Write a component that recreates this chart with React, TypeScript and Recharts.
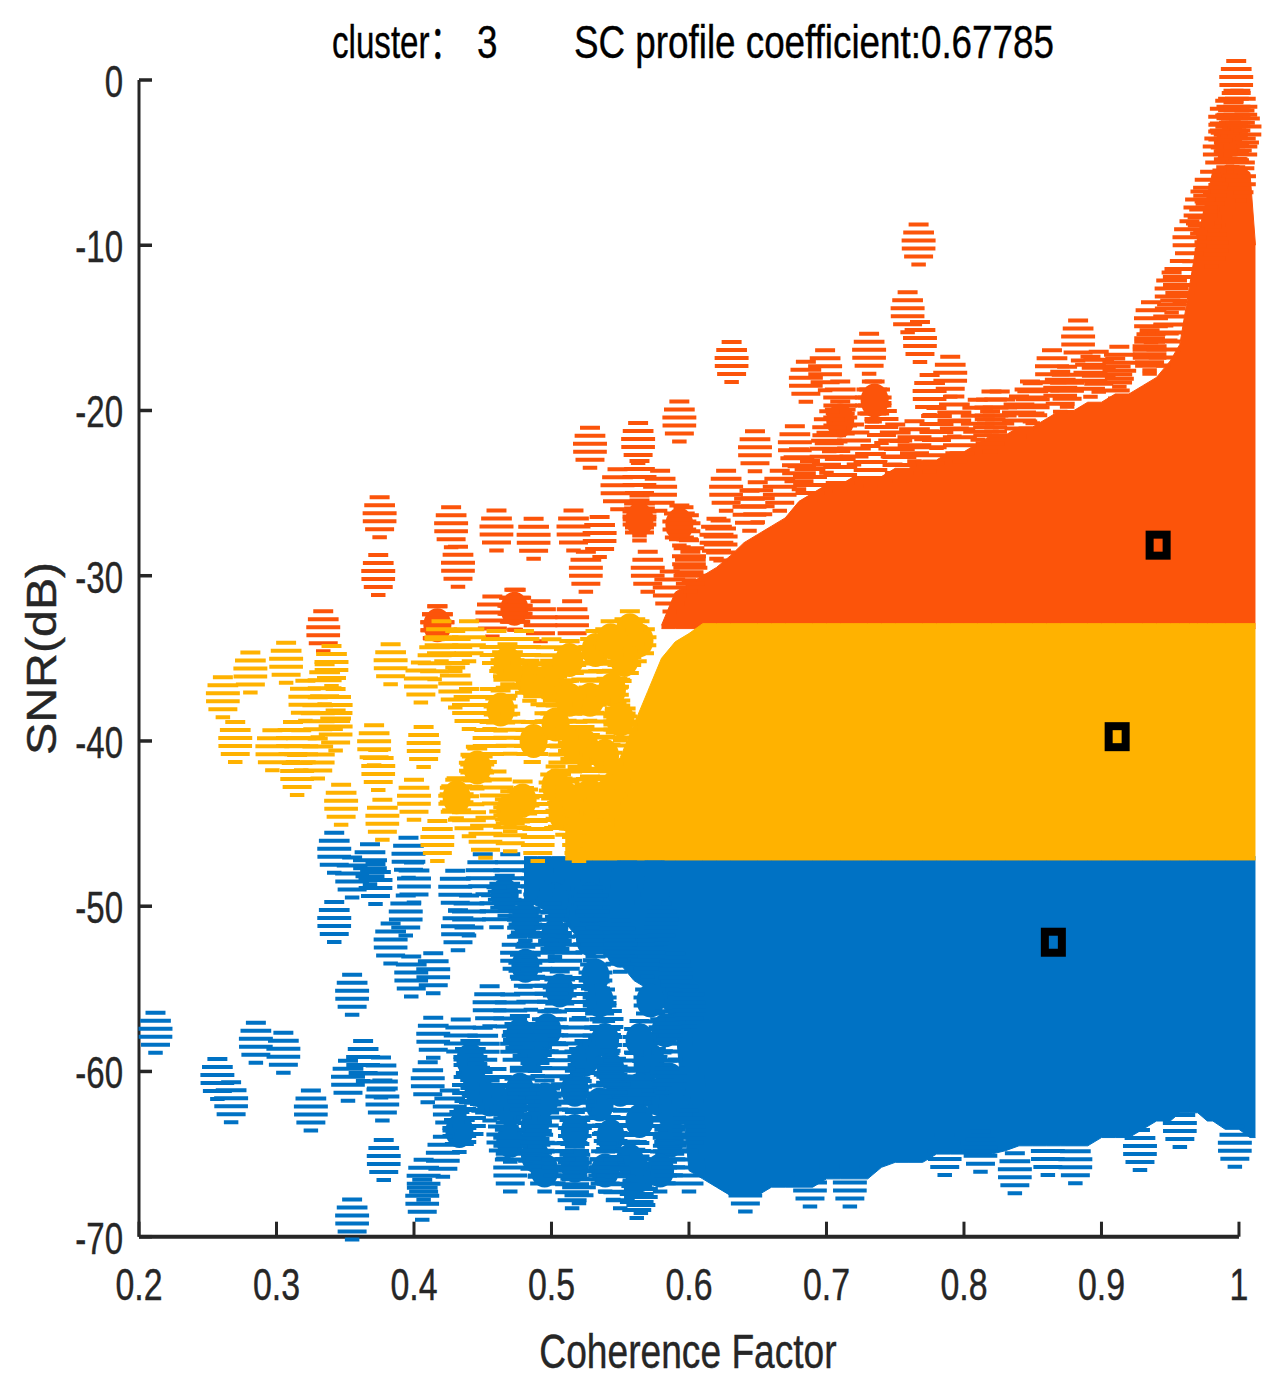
import React from 'react';
import { ComposedChart, Area, Scatter, XAxis, YAxis, ReferenceLine } from 'recharts';

const ORANGE = '#fc540a';
const YELLOW = '#ffb200';
const BLUE = '#0072c4';
const AXIS_COLOR = '#262626';
const FONT = '"Liberation Sans", "Noto Sans CJK SC", Arial, sans-serif';

const xTicks = [0.2, 0.3, 0.4, 0.5, 0.6, 0.7, 0.8, 0.9, 1];
const yTicks = [0, -10, -20, -30, -40, -50, -60, -70];

const bandX = [
  0.48, 0.49, 0.5, 0.51, 0.52, 0.53, 0.54, 0.55, 0.56, 0.57,
  0.58, 0.59, 0.6, 0.61, 0.62, 0.63, 0.64, 0.65, 0.66, 0.67,
  0.68, 0.69, 0.7, 0.71, 0.72, 0.73, 0.74, 0.75, 0.76, 0.77,
  0.78, 0.79, 0.8, 0.81, 0.82, 0.83, 0.84, 0.85, 0.86, 0.87,
  0.88, 0.89, 0.9, 0.91, 0.92, 0.93, 0.94, 0.95, 0.957, 0.964,
  0.97, 0.977, 0.981, 0.99, 1.0, 1.008, 1.012,
];
const orangeTop = [
  null, null, null, null, null, null, null, null, null, null,
  -33, -31, -30.5, -30, -29.5, -28.8, -28, -27.5, -27, -26.5,
  -25.5, -25, -24.5, -24.5, -24, -24, -24, -23.5, -23.5, -23,
  -23, -22.5, -22.5, -22, -21.5, -21.5, -21, -21, -20.5, -20,
  -20, -19.5, -19.5, -19, -19, -18.5, -18, -17, -16, -12.5,
  -9.5, -7, -5.5, -5.2, -5.2, -5.6, -10,
];
const yellowTop = [
  null, null, null, -44.5, -44, -43, -42, -41, -39, -37,
  -35, -34, -33.5, -32.9, -32.9, -32.9, -32.9, -32.9, -32.9, -32.9,
  -32.9, -32.9, -32.9, -32.9, -32.9, -32.9, -32.9, -32.9, -32.9, -32.9,
  -32.9, -32.9, -32.9, -32.9, -32.9, -32.9, -32.9, -32.9, -32.9, -32.9,
  -32.9, -32.9, -32.9, -32.9, -32.9, -32.9, -32.9, -32.9, -32.9, -32.9,
  -32.9, -32.9, -32.9, -32.9, -32.9, -32.9, -32.9,
];
const blueBottom = [
  -49.6, -50, -50.5, -51, -52, -52.5, -53, -53.5, -54.5, -55,
  -56, -57, -66, -66.5, -67, -67.5, -67.5, -67.5, -67, -67,
  -67, -67, -66.5, -66.5, -66.5, -66.5, -65.8, -65.5, -65.5, -65.5,
  -65, -65, -65, -65, -65, -64.8, -64.5, -64.5, -64.5, -64.5,
  -64.5, -64.5, -64, -64, -64, -63.5, -63, -63, -62.5, -62.5,
  -62.5, -63, -63, -63.5, -63.5, -64, -64,
];

const orangeBottom = -33.2;
const yellowBottom = -47.2;
const blueTop = -47;

// Scattered markers, [coherence, snr]
const orangePoints = [
  [0.998, 0], [0.996, -1.8], [0.996, -2.5], [0.994, -3.5], [0.99, -3.3], [0.995, -4], [0.994, -4.5], [1.0, -6],
  [0.985, -7.5], [0.975, -8.5], [0.98, -10], [0.767, -9.9], [0.759, -14], [0.768, -15.8], [0.731, -16.5], [0.631, -17],
  [0.593, -20.6], [0.528, -22.2], [0.563, -21.9], [0.648, -22.4], [0.627, -24.8], [0.548, -24.7], [0.375, -26.4],
  [0.427, -27], [0.46, -27.2], [0.487, -27.7], [0.516, -27.2], [0.535, -27.6], [0.564, -26.3], [0.374, -29.9],
  [0.432, -29.4], [0.57, -29.7], [0.596, -27], [0.525, -29.7], [0.334, -33.3], [0.417, -33], [0.457, -32.4],
  [0.474, -32], [0.492, -32.7], [0.515, -32.7], [0.564, -24.2], [0.579, -24.8], [0.685, -18.2], [0.699, -17.5],
  [0.71, -19.4], [0.733, -19.4], [0.79, -17.9], [0.775, -19], [0.793, -20.3], [0.677, -22.1], [0.702, -21.2],
  [0.764, -21.8], [0.864, -17.5], [0.883, -15.7], [0.898, -17.6], [0.936, -14.6], [0.951, -12.8], [0.84, -20.3],
  [0.6, -29], [0.62, -27.7], [0.65, -25.5], [0.68, -23.5], [0.7, -22.5], [0.72, -22], [0.74, -20.7], [0.75, -22],
  [0.78, -21], [0.81, -20.5], [0.82, -20], [0.85, -19.5], [0.875, -18.5], [0.91, -18], [0.935, -16.5], [0.945, -16],
  [0.826, -20], [0.848, -19.4], [0.87, -18.8], [0.892, -17.9], [0.913, -17.3], [0.935, -16.3], [0.819, -21.2],
  [0.797, -21.8], [0.775, -22.4], [0.753, -23], [0.732, -23.3], [0.71, -23.6], [0.688, -24.2], [0.666, -24.8],
  [0.644, -26], [0.623, -27.8], [0.601, -29.7], [0.586, -30.9], [0.95, -14.5], [0.957, -12.1], [0.964, -9.7],
  [0.972, -7.9], [0.979, -6.7], [0.986, -4.2], [1.001, -4.2], [1.004, -3], [0.99, -2.4], [1.001, -1.8],
];
const orangeBlobs = [
  [0.473, -32], [0.417, -33], [0.564, -26.6], [0.593, -26.9], [0.71, -20.6], [0.735, -19.4],
];
const yellowPoints = [
  [0.261, -37.3], [0.281, -35.8], [0.307, -35.2], [0.34, -35.4], [0.335, -36.5], [0.321, -37.5], [0.343, -38],
  [0.343, -39.3], [0.33, -38.5], [0.27, -40], [0.297, -40.5], [0.315, -42], [0.318, -40.5], [0.33, -41], [0.312, -40],
  [0.347, -43.8], [0.371, -40.2], [0.374, -41.7], [0.407, -40.3], [0.377, -44.7], [0.4, -43.5], [0.383, -35.3],
  [0.405, -36.4], [0.415, -35], [0.43, -34.5], [0.43, -36.7], [0.44, -38], [0.455, -38], [0.455, -40], [0.445, -41.5],
  [0.43, -43.5], [0.44, -44.5], [0.417, -46], [0.452, -45.8], [0.46, -43], [0.47, -36], [0.48, -34.5], [0.49, -36.5],
  [0.5, -35], [0.5, -38.5], [0.485, -40], [0.47, -39.5], [0.505, -37], [0.51, -41], [0.515, -39.5], [0.525, -35.5],
  [0.53, -39], [0.53, -42], [0.545, -36], [0.55, -39], [0.48, -44], [0.49, -46], [0.5, -44], [0.515, -43], [0.535, -45.5],
  [0.545, -42.5], [0.42, -33.9], [0.46, -34.5], [0.44, -33.9], [0.52, -46], [0.47, -45.4],
];
const yellowBlobs = [
  [0.484, -36.3], [0.499, -36.3], [0.468, -35.3], [0.487, -40], [0.446, -41.6], [0.431, -43.4], [0.479, -43.6],
  [0.508, -44.4], [0.528, -37.5], [0.544, -36.9], [0.553, -35.1], [0.524, -40.3], [0.539, -40.9], [0.55, -38.7],
  [0.528, -43.3], [0.543, -43.9], [0.521, -45.4], [0.535, -45.7], [0.564, -33.9], [0.557, -33.3],
  [0.513, -43.6], [0.513, -37.5], [0.513, -35.1], [0.532, -34.5], [0.543, -33.9], [0.503, -39], [0.517, -40.3],
  [0.503, -42.7], [0.463, -38.1], [0.47, -44.2],
];
const bluePoints = [
  [0.342, -46.7], [0.368, -47.4], [0.355, -48.2], [0.372, -48.6], [0.396, -47], [0.4, -48.5], [0.342, -50.9], [0.394, -50.5],
  [0.383, -52.2], [0.432, -51.4], [0.414, -54], [0.398, -54.2], [0.355, -55.3], [0.212, -57.6], [0.285, -58.2], [0.305, -58.8],
  [0.257, -60.4], [0.267, -61.8], [0.325, -62.3], [0.363, -59.3], [0.352, -60.5], [0.376, -60.3], [0.377, -61.7],
  [0.378, -65.3], [0.421, -65.1], [0.407, -66.5], [0.406, -67.7], [0.355, -68.9], [0.414, -57.9], [0.434, -58],
  [0.41, -60.6], [0.426, -62.3], [0.446, -60.7], [0.43, -49], [0.45, -48], [0.47, -48], [0.49, -48.5], [0.44, -50.5],
  [0.46, -50], [0.48, -51], [0.5, -51], [0.475, -53], [0.49, -53], [0.51, -53], [0.52, -55.5], [0.5, -55], [0.485, -55],
  [0.455, -56], [0.47, -56.5], [0.5, -57.5], [0.45, -58.5], [0.475, -58.5], [0.49, -59], [0.505, -59.5], [0.52, -58],
  [0.54, -57], [0.535, -58], [0.56, -60], [0.58, -60], [0.545, -60.5], [0.44, -61], [0.46, -61], [0.48, -61.5], [0.5, -62],
  [0.52, -62.5], [0.54, -63], [0.56, -63], [0.58, -63], [0.44, -63], [0.465, -64], [0.49, -64.5], [0.515, -65], [0.54, -65.5],
  [0.56, -65], [0.585, -65.5], [0.47, -66], [0.52, -66.7], [0.505, -65.5], [0.565, -67.3], [0.545, -66.5], [0.55, -67],
  [0.6, -61], [0.6, -63.5], [0.59, -58], [0.57, -53], [0.58, -51], [0.55, -52], [0.53, -50], [0.555, -48.5], [0.575, -48.5],
  [0.59, -54], [0.6, -56], [0.837, -66.1], [0.861, -65], [0.881, -65.5], [0.928, -64.7], [0.997, -64.5], [0.786, -65],
  [0.717, -66.9], [0.688, -66.9], [0.641, -67.2], [0.562, -67.6], [0.515, -67], [0.6, -66], [0.812, -64.8], [0.957, -63.3],
];
const blueBlobs = [
  [0.5025, -49.6], [0.528, -49.6], [0.5025, -51.8], [0.528, -52], [0.55, -52.7], [0.532, -54.2], [0.572, -55.7],
  [0.488, -58.7], [0.524, -59.3], [0.484, -58.4], [0.447, -61.1], [0.441, -59.3], [0.455, -61.7], [0.488, -65.1],
  [0.488, -63.3], [0.517, -63.6], [0.543, -63.9], [0.564, -63], [0.579, -61.7], [0.586, -64.2], [0.557, -65.4],
  [0.517, -65.7], [0.564, -66.3], [0.579, -66], [0.55, -61.1], [0.572, -59.3], [0.583, -57.5], [0.517, -61.1], [0.477, -61.1],
  [0.47, -64.2], [0.477, -57.8], [0.497, -57.5], [0.539, -58.1], [0.564, -58.1], [0.543, -59.9], [0.495, -61.7],
  [0.535, -62], [0.564, -61.1], [0.586, -60.5], [0.59, -62.3], [0.495, -66], [0.539, -66], [0.47, -62.3], [0.433, -63.6],
  [0.535, -55.7], [0.506, -55.1], [0.481, -53.6], [0.481, -50.8], [0.466, -49.3],
];
const centroids = [
  [0.9412, -28.15],
  [0.9114, -39.74],
  [0.865, -52.18],
];

const toPoints = (list: number[][]) => list.map(([x, y]) => ({ x, y }));

const bandData = bandX.map((x, i) => ({
  x,
  blue: [blueBottom[i], blueTop],
  orange: orangeTop[i] === null ? null : [orangeBottom, orangeTop[i]],
  yellow: yellowTop[i] === null ? null : [yellowBottom, yellowTop[i]],
}));

const stripePath = (cx: number, cy: number) => {
  const rx = 17;
  const ry = 21;
  let d = '';
  for (let top = -21; top <= 19; top += 8) {
    const nearest = top < 0 ? Math.min(0, top + 4) : top;
    const half = rx * Math.sqrt(Math.max(0, 1 - (nearest / ry) * (nearest / ry)));
    d += `M${cx - half} ${cy + top}h${half * 2}v4h${-half * 2}z`;
  }
  return d;
};

// Markers in the picture are tall ellipses printed as horizontal stripes
const stripedMarker = (fill: string) => (props: any) => (
  <path d={stripePath(props.cx, props.cy)} fill={fill} />
);

// Where many markers pile up the middle closes, the rim stays striped
const solidMarker = (fill: string) => (props: any) => (
  <g>
    <ellipse cx={props.cx} cy={props.cy} rx={14} ry={17} fill={fill} />
    <path d={stripePath(props.cx, props.cy)} fill={fill} />
  </g>
);

const CentroidMarker = (props: any) => {
  const { cx, cy } = props;
  return <rect x={cx - 8.5} y={cy - 10.5} width={17} height={21} fill="none" stroke="#000" strokeWidth={8} />;
};

const Stretched = ({ x, y, sx = 1, sy = 1, rotate = 0, size, anchor = 'start', fill = AXIS_COLOR, children }: any) => (
  <text
    transform={`translate(${x},${y}) rotate(${rotate}) scale(${sx},${sy})`}
    textAnchor={anchor}
    fontFamily={FONT}
    fontSize={size}
    fill={fill}
    stroke={fill}
    strokeWidth={0.4}
  >
    {children}
  </text>
);

const XTick = ({ x, y, payload }: any) => (
  <g>
    <rect x={x - 1.5} y={y - 15} width={3} height={15} fill={AXIS_COLOR} />
    <Stretched x={x} y={y + 63} sx={0.77} size={44} anchor="middle">{payload.value}</Stretched>
  </g>
);

const YTick = ({ x, y, payload }: any) => (
  <g>
    <rect x={x} y={y - 1.75} width={13} height={3.5} fill={AXIS_COLOR} />
    <Stretched x={x - 16} y={y + 17} sx={0.75} size={44} anchor="end">{payload.value}</Stretched>
  </g>
);

export default function App() {
  return (
    <div style={{ position: 'absolute', left: 0, top: 0, width: 1279, height: 1391, background: '#fff' }}>
      <ComposedChart
        width={1279}
        height={1391}
        data={bandData}
        margin={{ top: 80, right: 19.4, bottom: 94.3, left: 79 }}
      >
        <XAxis
          type="number"
          dataKey="x"
          domain={[0.2, 1.015]}
          ticks={xTicks}
          interval={0}
          height={60}
          axisLine={false}
          tickLine={false}
          tickSize={0}
          tickMargin={0}
          tick={<XTick />}
        />
        <YAxis
          type="number"
          dataKey="y"
          domain={[-70, 0]}
          ticks={yTicks}
          interval={0}
          width={60}
          axisLine={{ stroke: AXIS_COLOR, strokeWidth: 3 }}
          tickLine={false}
          tickSize={0}
          tickMargin={0}
          tick={<YTick />}
        />

        <Area dataKey="blue" type="linear" fill={BLUE} fillOpacity={1} stroke={BLUE} strokeWidth={1} dot={false} activeDot={false} isAnimationActive={false} />
        <Scatter data={toPoints(blueBlobs)} shape={solidMarker(BLUE)} isAnimationActive={false} />
        <Scatter data={toPoints(bluePoints)} shape={stripedMarker(BLUE)} isAnimationActive={false} />
        <Area dataKey="orange" type="linear" fill={ORANGE} fillOpacity={1} stroke={ORANGE} strokeWidth={1} dot={false} activeDot={false} isAnimationActive={false} />
        <Scatter data={toPoints(orangeBlobs)} shape={solidMarker(ORANGE)} isAnimationActive={false} />
        <Scatter data={toPoints(orangePoints)} shape={stripedMarker(ORANGE)} isAnimationActive={false} />
        <Area dataKey="yellow" type="linear" fill={YELLOW} fillOpacity={1} stroke={YELLOW} strokeWidth={1} dot={false} activeDot={false} isAnimationActive={false} />
        <Scatter data={toPoints(yellowBlobs)} shape={solidMarker(YELLOW)} isAnimationActive={false} />
        <Scatter data={toPoints(yellowPoints)} shape={stripedMarker(YELLOW)} isAnimationActive={false} />
        <Scatter data={toPoints(centroids)} shape={<CentroidMarker />} isAnimationActive={false} />

        <ReferenceLine
          segment={[{ x: 0.2, y: -70 }, { x: 1, y: -70 }]}
          stroke={AXIS_COLOR}
          strokeWidth={4}
        />

        <Stretched x={332} y={58} sx={0.72} size={46} fill="#000">cluster：</Stretched>
        <Stretched x={477} y={58} sx={0.8} size={46} fill="#000">3</Stretched>
        <Stretched x={574} y={58} sx={0.8} size={46} fill="#000">SC profile coefficient:0.67785</Stretched>
        <Stretched x={688} y={1368} sx={0.774} size={48} anchor="middle">Coherence Factor</Stretched>
        <Stretched x={56} y={755} rotate={-90} sx={1.15} size={42}>SNR(dB)</Stretched>
      </ComposedChart>
    </div>
  );
}
